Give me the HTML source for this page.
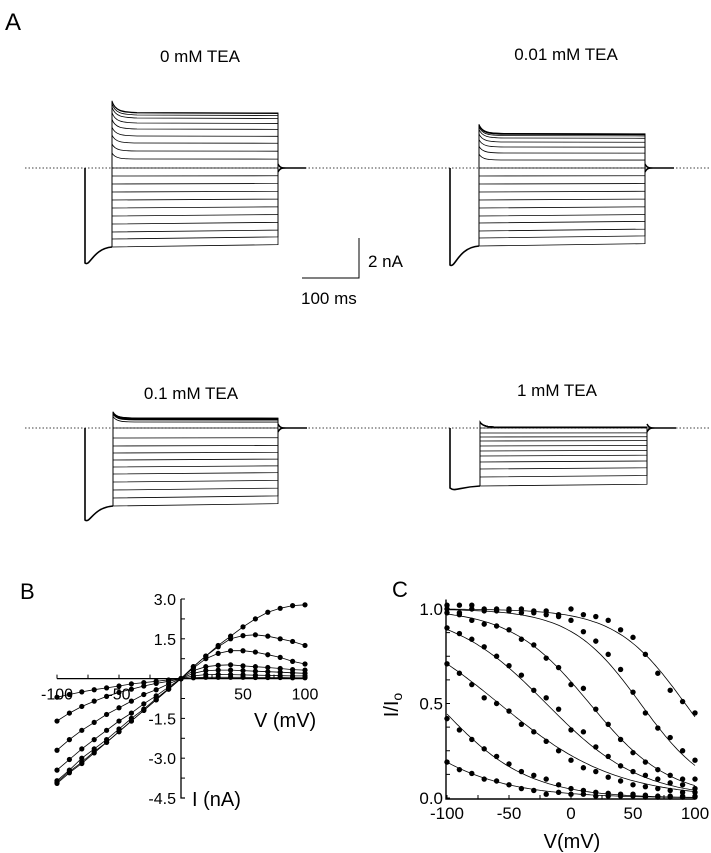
<!DOCTYPE html>
<html><head><meta charset="utf-8">
<style>
html,body{margin:0;padding:0;background:#fff;}
svg{display:block;font-family:"Liberation Sans",Arial,sans-serif;}
</style></head>
<body>
<svg id="fig" width="711" height="853" viewBox="0 0 711 853" xmlns="http://www.w3.org/2000/svg">
<text x="5" y="30" font-size="24">A</text>
<text x="200" y="62" font-size="17" text-anchor="middle">0 mM TEA</text>
<text x="566" y="60" font-size="17" text-anchor="middle">0.01 mM TEA</text>
<text x="191" y="399" font-size="17" text-anchor="middle">0.1 mM TEA</text>
<text x="557" y="396" font-size="17" text-anchor="middle">1 mM TEA</text>
<g stroke="#000" stroke-width="1" fill="none">
<path d="M359 238 V278 H302"/>
</g>
<text x="368" y="267" font-size="17">2 nA</text>
<text x="301" y="304" font-size="17">100 ms</text>
<g id="traces"></g>

<text x="20" y="599" font-size="22">B</text>
<g id="panelB"></g>
<text x="392" y="597" font-size="22">C</text>
<g id="panelC"></g>
</svg>
<script>
// ---------- data ----------
const volts = [-100,-90,-80,-70,-60,-50,-40,-30,-20,-10,0,10,20,30,40,50,60,70,80,90,100];
// Panel B currents (nA)
const ivS0 = [-3.95,-3.55,-3.2,-2.8,-2.4,-2.0,-1.6,-1.2,-0.8,-0.4,0,0.45,0.85,1.25,1.6,1.95,2.25,2.5,2.65,2.75,2.78];
const ivS1 = [-3.9,-3.5,-3.15,-2.75,-2.4,-2.0,-1.6,-1.2,-0.8,-0.4,0,0.45,0.85,1.2,1.5,1.62,1.65,1.6,1.5,1.4,1.25];
const ivS2 = [-3.85,-3.45,-3.0,-2.65,-2.3,-1.9,-1.5,-1.15,-0.75,-0.38,0,0.4,0.75,0.95,1.05,1.05,1.0,0.9,0.8,0.65,0.55];
const ivS3 = [-3.45,-3.05,-2.65,-2.3,-1.95,-1.6,-1.3,-0.95,-0.65,-0.32,0,0.3,0.45,0.5,0.52,0.48,0.45,0.42,0.38,0.34,0.32];
const ivS4 = [-2.7,-2.3,-1.95,-1.65,-1.35,-1.1,-0.85,-0.6,-0.42,-0.2,0,0.2,0.3,0.32,0.32,0.3,0.28,0.26,0.24,0.22,0.2];
const ivS5 = [-1.6,-1.3,-1.05,-0.85,-0.67,-0.52,-0.4,-0.28,-0.18,-0.1,0,0.1,0.15,0.16,0.15,0.14,0.13,0.12,0.11,0.1,0.1];
const ivS6 = [-0.7,-0.6,-0.5,-0.42,-0.35,-0.28,-0.2,-0.15,-0.1,-0.05,0,0.03,0.05,0.05,0.05,0.05,0.04,0.04,0.04,0.03,0.03];
const ivSeries = [ivS0,ivS1,ivS2,ivS3,ivS4,ivS5,ivS6];
const bXTicks = [-100,-50,50,100];
const bYTicks = [3.0,1.5,-1.5,-3.0,-4.5];
// Panel C fractional current
const fc1 = [1.02,1.02,1.02,1.0,1.0,1.0,1.0,0.99,0.99,0.97,1.0,0.97,0.96,0.94,0.89,0.85,0.76,0.66,0.57,0.51,0.45];
const fc2 = [1.0,0.98,1.0,0.99,0.99,0.99,0.98,0.98,0.97,0.96,0.94,0.88,0.83,0.76,0.68,0.56,0.45,0.37,0.32,0.25,0.2];
const fc3 = [0.98,0.97,0.94,0.92,0.91,0.89,0.84,0.81,0.74,0.69,0.6,0.58,0.47,0.39,0.31,0.24,0.19,0.15,0.12,0.1,0.1];
const fc4 = [0.9,0.87,0.84,0.8,0.75,0.7,0.65,0.57,0.53,0.47,0.36,0.35,0.27,0.22,0.17,0.14,0.12,0.1,0.08,0.07,0.05];
const fc5 = [0.71,0.66,0.6,0.53,0.5,0.46,0.39,0.35,0.3,0.25,0.2,0.16,0.14,0.11,0.09,0.07,0.06,0.05,0.04,0.03,0.03];
const fc6 = [0.42,0.36,0.31,0.26,0.22,0.18,0.14,0.12,0.1,0.07,0.05,0.04,0.03,0.025,0.02,0.02,0.015,0.01,0.01,0.01,0.01];
const fc7 = [0.19,0.15,0.13,0.1,0.09,0.07,0.05,0.04,0.02,0.03,0.02,0.02,0.01,0.01,0.01,0.01,0.005,0.005,0.005,0.005,0.005];
const fcSeries = [fc1,fc2,fc3,fc4,fc5,fc6,fc7];
const fitHalfV = [92,56,15,-20,-58,-108,-164];
const fitSlope = [28,28,32,38,47,36,44];
const cXTicks = [-100,-50,0,50,100];
const cYTicks = [0.0,0.5,1.0];
// Panel A trace step levels (nA)
const trTL = ivS0;
const trTR = [-3.9,-3.5,-3.15,-2.75,-2.4,-2.0,-1.6,-1.2,-0.8,-0.4,0,0.4,0.75,1.05,1.3,1.5,1.62,1.68,1.7,1.72,1.73];
const trBL = [-3.9,-3.5,-3.1,-2.7,-2.3,-1.95,-1.6,-1.25,-0.9,-0.5,0,0.3,0.42,0.48,0.5,0.5,0.48,0.46,0.44,0.42,0.4];
const trBR = [-2.9,-2.45,-2.05,-1.7,-1.4,-1.15,-0.9,-0.65,-0.45,-0.25,0,0.02,0.03,0.04,0.05,0.05,0.05,0.05,0.05,0.05,0.05];
const prePeak = [-4.75,-4.85,-4.6,-3.0];

// ---------- helpers ----------
const NS="http://www.w3.org/2000/svg";
function mk(tag, attrs, parent){const e=document.createElementNS(NS,tag);for(const k in attrs)e.setAttribute(k,attrs[k]);parent.appendChild(e);return e;}

// ---------- Panel A ----------
const tr = document.getElementById('traces');
const panels = [
 {levels:trTL, base:168, pre:85, x0:112, x1:278, tail:306, peak:prePeak[0], dot0:25, dot1:711},
 {levels:trTR, base:168, pre:450, x0:479, x1:645, tail:674, peak:prePeak[1], dot0:0, dot1:0},
 {levels:trBL, base:428, pre:85, x0:113, x1:278, tail:307, peak:prePeak[2], dot0:25, dot1:711},
 {levels:trBR, base:428, pre:450, x0:480, x1:647, tail:676, peak:prePeak[3], dot0:0, dot1:0}
];
const pxPerNA = 20;
panels.forEach((p,pi)=>{
  const g = mk('g',{fill:'none',stroke:'#000','stroke-width':'0.8'},tr);
  
  
  if(p.dot1>0){
    const d = mk('line',{x1:p.dot0,y1:p.base,x2:p.dot1,y2:p.base,'stroke-dasharray':'1.5 2','stroke-width':'0.8'},g);
    
    
  }
  const y = v=>p.base - v*pxPerNA;
  const hold = p.levels[0];
  let pd = `M${p.pre} ${p.base} V${y(p.peak)} C${p.pre+5} ${y(p.peak)+4} ${p.pre+8} ${y(hold*1.02)} ${p.x0} ${y(hold*1.0)}`;
  const pp = mk('path',{d:pd,'stroke-width':'1.6'},g);
  
  
  p.levels.forEach((lv,i)=>{
    let d;
    if(lv>0){
      const pk = lv*1.12+0.25;
      d = `M${p.x0} ${y(hold)} V${y(pk)} C${p.x0+3} ${y(lv*1.03)} ${p.x0+10} ${y(lv*1.01)} ${p.x0+25} ${y(lv)} L${p.x1} ${y(lv*0.99)} V${p.base}`;
    } else {
      d = `M${p.x0} ${y(hold)} V${y(lv)} L${p.x1} ${y(lv*0.97)} V${p.base}`;
    }
    const s = mk('path',{d:d},g);
    
    
  });
  const t = mk('path',{d:`M${p.x1} ${p.base-4} C${p.x1+2} ${p.base} ${p.x1+4} ${p.base} ${p.x1+8} ${p.base} L${p.tail} ${p.base} M${p.x1} ${p.base+4} C${p.x1+2} ${p.base} ${p.x1+4} ${p.base} ${p.x1+8} ${p.base}`,'stroke-width':'1.5'},g);
  
  
});

// ---------- Panel B ----------
const gB = document.getElementById('panelB');
const xB = v=>181 + v*1.24;
const yB = i=>678.6 - i*26.53;
const axB = mk('path',{d:`M${xB(-100)} ${yB(0)} H${xB(100)} M${xB(0)} ${yB(3)} V${yB(-4.5)} H${xB(0)+4}`,stroke:'#000','stroke-width':'1.3',fill:'none'},gB);


for(let v=-100; v<=100; v+=25){
  const t=mk('line',{x1:xB(v),y1:yB(0),x2:xB(v),y2:yB(0)-4,stroke:'#000','stroke-width':'1'},gB);
  
  
}
for(let i=3; i>=-4.5; i-=0.75){
  const t=mk('line',{x1:xB(0),y1:yB(i),x2:xB(0)+4,y2:yB(i),stroke:'#000','stroke-width':'1'},gB);
  
  
}
bXTicks.forEach(v=>{
  const t=mk('text',{x:xB(v),y:yB(0)+21,'font-size':'16','text-anchor':'middle'},gB);
  t.textContent=v;
  
  
});
bYTicks.forEach(v=>{
  const t=mk('text',{x:xB(0)-5,y:yB(v)+6,'font-size':'16','text-anchor':'end'},gB);
  t.textContent=v.toFixed(1);
  
  
});
ivSeries.forEach((s,si)=>{
  const d = s.map((v,i)=>(i?'L':'M')+xB(volts[i]).toFixed(1)+' '+yB(v).toFixed(1)).join(' ');
  const l = mk('path',{d:d,stroke:'#000','stroke-width':'0.8',fill:'none'},gB);
  
  
  s.forEach((v,i)=>{
    const c=mk('circle',{cx:xB(volts[i]),cy:yB(v),r:2.6,fill:'#000'},gB);
    
    
  });
});
let tb=mk('text',{x:254,y:727,'font-size':'20'},gB); tb.textContent='V (mV)';


tb=mk('text',{x:192,y:806,'font-size':'20'},gB); tb.textContent='I (nA)';



// ---------- Panel C ----------
const gC = document.getElementById('panelC');
const xC = v=>447 + (v+100)*1.24;
const yC = f=>798 - f*189;
const axC = mk('path',{d:`M446 ${yC(1.05)} V799 H${xC(100)}`,stroke:'#000','stroke-width':'1.4',fill:'none'},gC);


for(let v=-100; v<=100; v+=25){
  const t=mk('line',{x1:xC(v),y1:799,x2:xC(v),y2:795,stroke:'#000','stroke-width':'1'},gC);
  
  
}
for(let f=0; f<=1.001; f+=0.125){
  const t=mk('line',{x1:446,y1:yC(f),x2:450,y2:yC(f),stroke:'#000','stroke-width':'1'},gC);
  
  
}
cXTicks.forEach(v=>{
  const t=mk('text',{x:xC(v),y:819,'font-size':'17','text-anchor':'middle'},gC);
  t.textContent=v;
  
  
});
cYTicks.forEach(v=>{
  const t=mk('text',{x:443,y:yC(v)+6,'font-size':'17','text-anchor':'end'},gC);
  t.textContent=v.toFixed(1);
  
  
});
fitHalfV.forEach((h,k)=>{
  let d='';
  for(let v=-100; v<=100; v+=2){
    const f = 1/(1+Math.exp((v-h)/fitSlope[k]));
    d += (v===-100?'M':'L')+xC(v).toFixed(1)+' '+yC(f).toFixed(1)+' ';
  }
  const l=mk('path',{d:d,stroke:'#000','stroke-width':'0.8',fill:'none'},gC);
  
  
});
fcSeries.forEach((s,si)=>{
  s.forEach((v,i)=>{
    const c=mk('circle',{cx:xC(volts[i]),cy:yC(v),r:2.7,fill:'#000'},gC);
    
    
  });
});
tb=mk('text',{x:572,y:848,'font-size':'20','text-anchor':'middle'},gC); tb.textContent='V(mV)';


tb=mk('text',{x:0,y:0,'font-size':'20','transform':'translate(398 705) rotate(-90)','text-anchor':'middle'},gC);
tb.innerHTML='I/I<tspan font-size="14" dy="4">o</tspan>';


</script>
</body></html>
